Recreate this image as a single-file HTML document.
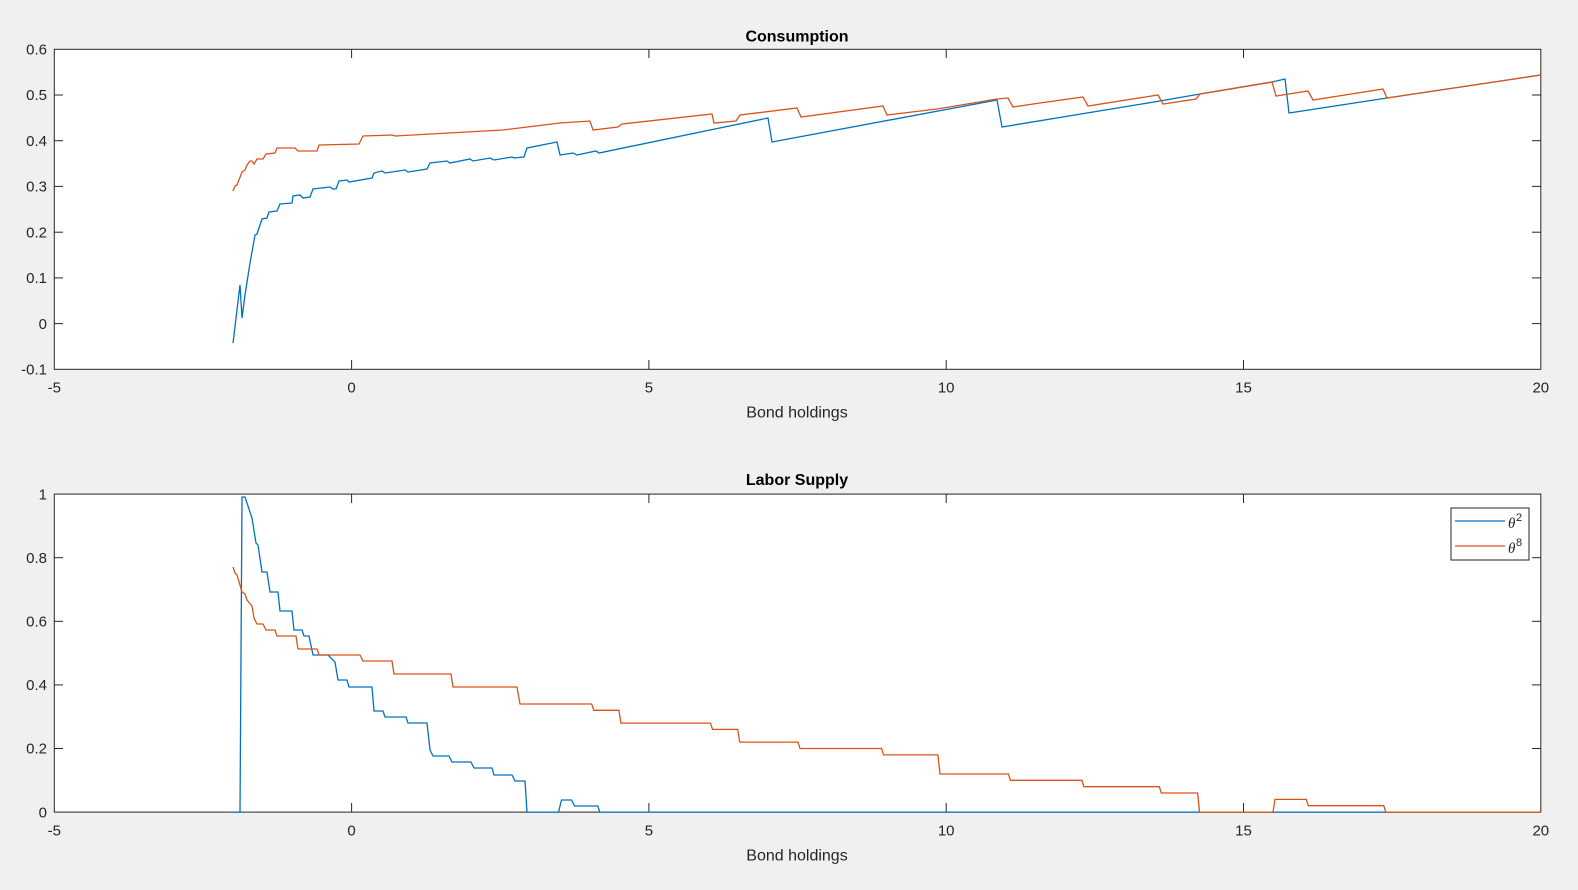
<!DOCTYPE html>
<html><head><meta charset="utf-8"><style>
html,body{margin:0;padding:0;background:#f0f0f0;}
svg{display:block;font-family:"Liberation Sans",Arial,sans-serif;}
</style></head><body>
<svg width="1578" height="890" viewBox="0 0 1578 890" xmlns="http://www.w3.org/2000/svg">
<rect width="1578" height="890" fill="#f0f0f0"/>
<!-- Top axes -->
<rect x="54.3" y="49.3" width="1486.5" height="320" fill="#fff" stroke="#262626" stroke-width="1"/>
<g stroke="#262626" stroke-width="1">
<line x1="351.6" y1="49.3" x2="351.6" y2="58"/><line x1="351.6" y1="369.3" x2="351.6" y2="360"/>
<line x1="648.9" y1="49.3" x2="648.9" y2="58"/><line x1="648.9" y1="369.3" x2="648.9" y2="360"/>
<line x1="946.2" y1="49.3" x2="946.2" y2="58"/><line x1="946.2" y1="369.3" x2="946.2" y2="360"/>
<line x1="1243.5" y1="49.3" x2="1243.5" y2="58"/><line x1="1243.5" y1="369.3" x2="1243.5" y2="360"/>
<line x1="54.3" y1="95" x2="63" y2="95"/><line x1="1540.8" y1="95" x2="1532" y2="95"/>
<line x1="54.3" y1="140.7" x2="63" y2="140.7"/><line x1="1540.8" y1="140.7" x2="1532" y2="140.7"/>
<line x1="54.3" y1="186.4" x2="63" y2="186.4"/><line x1="1540.8" y1="186.4" x2="1532" y2="186.4"/>
<line x1="54.3" y1="232.2" x2="63" y2="232.2"/><line x1="1540.8" y1="232.2" x2="1532" y2="232.2"/>
<line x1="54.3" y1="277.9" x2="63" y2="277.9"/><line x1="1540.8" y1="277.9" x2="1532" y2="277.9"/>
<line x1="54.3" y1="323.6" x2="63" y2="323.6"/><line x1="1540.8" y1="323.6" x2="1532" y2="323.6"/>
</g>
<g font-size="15" fill="#262626" text-anchor="end">
<text x="47" y="54.5">0.6</text><text x="47" y="100.2">0.5</text><text x="47" y="146">0.4</text>
<text x="47" y="191.7">0.3</text><text x="47" y="237.4">0.2</text><text x="47" y="283.1">0.1</text>
<text x="47" y="328.9">0</text><text x="47" y="374.6">-0.1</text>
</g>
<g font-size="15" fill="#262626" text-anchor="middle">
<text x="54.3" y="392.5">-5</text><text x="351.6" y="392.5">0</text><text x="648.9" y="392.5">5</text>
<text x="946.2" y="392.5">10</text><text x="1243.5" y="392.5">15</text><text x="1540.8" y="392.5">20</text>
<text x="797" y="417.6" font-size="16">Bond holdings</text>
<text x="797" y="41.3" font-size="16" font-weight="bold" fill="#000">Consumption</text>
</g>
<polyline fill="none" stroke="#0072bd" stroke-width="1.3" points="233,343 240,285 242,318 245,295 250,263 255,235 257,234 262,219 267,218 269,212 277,211 280,204 292,203 293,196 300,195 303,198 310,197 313,189 330,187 333,189 336,189 339,181 347,180 349,182 372,178 374,173 382,171 385,173 405,170 408,172 427,169 430,163 447,161 450,163 470,159 473,161 490,158 494,160 512,157 514,158 524,157 527,148 557,142 560,155 573,153 577,155 596,151 599,153 768,118 772,142 997,100 1002,127 1160,101 1200,94 1272,82 1285,79 1289,113 1387,98 1540.8,75"/>
<polyline fill="none" stroke="#d95319" stroke-width="1.3" points="233,191 235,186 237,185 242,172 245,170 247,165 250,161 252,161 254,164 257,159 263,159 266,154 275,153 277,148 295,148 298,151 317,151 319,145 359,144 363,136 392,135 395,136 503,130 560,123 590,121 593,130 618,127 622,124 712,114 714,123 736,121 740,115 797,108 801,117 883,106 887,115 937,109 997,99 1008,98 1013,107 1040,103 1083,97 1088,106 1158,95 1163,104 1196,99 1200,94 1272,82 1276,96 1308,91 1313,100 1383,89 1387,98 1540.8,75"/>
<!-- Bottom axes -->
<rect x="54.3" y="494.1" width="1486.5" height="318" fill="#fff" stroke="#262626" stroke-width="1"/>
<g stroke="#262626" stroke-width="1">
<line x1="351.6" y1="494.1" x2="351.6" y2="503"/><line x1="351.6" y1="812.1" x2="351.6" y2="803"/>
<line x1="648.9" y1="494.1" x2="648.9" y2="503"/><line x1="648.9" y1="812.1" x2="648.9" y2="803"/>
<line x1="946.2" y1="494.1" x2="946.2" y2="503"/><line x1="946.2" y1="812.1" x2="946.2" y2="803"/>
<line x1="1243.5" y1="494.1" x2="1243.5" y2="503"/><line x1="1243.5" y1="812.1" x2="1243.5" y2="803"/>
<line x1="54.3" y1="557.7" x2="63" y2="557.7"/><line x1="1540.8" y1="557.7" x2="1532" y2="557.7"/>
<line x1="54.3" y1="621.3" x2="63" y2="621.3"/><line x1="1540.8" y1="621.3" x2="1532" y2="621.3"/>
<line x1="54.3" y1="684.9" x2="63" y2="684.9"/><line x1="1540.8" y1="684.9" x2="1532" y2="684.9"/>
<line x1="54.3" y1="748.5" x2="63" y2="748.5"/><line x1="1540.8" y1="748.5" x2="1532" y2="748.5"/>
</g>
<g font-size="15" fill="#262626" text-anchor="end">
<text x="47" y="499.3">1</text><text x="47" y="562.9">0.8</text><text x="47" y="626.5">0.6</text>
<text x="47" y="690.1">0.4</text><text x="47" y="753.7">0.2</text><text x="47" y="817.3">0</text>
</g>
<g font-size="15" fill="#262626" text-anchor="middle">
<text x="54.3" y="835.3">-5</text><text x="351.6" y="835.3">0</text><text x="648.9" y="835.3">5</text>
<text x="946.2" y="835.3">10</text><text x="1243.5" y="835.3">15</text><text x="1540.8" y="835.3">20</text>
<text x="797" y="860.4" font-size="16">Bond holdings</text>
<text x="797" y="485" font-size="16" font-weight="bold" fill="#000">Labor Supply</text>
</g>
<polyline fill="none" stroke="#0072bd" stroke-width="1.3" points="233,812.1 240,812.1 242,497 245,497 252,518 256,543 258,545 262,572 267,572 270,592 278,592 280,611 292,611 294,630 302,630 304,636 309,636 313,655 328,655 335,662 338,680 347,680 349,687 372,687 374,711 383,711 385,717 406,717 408,723 427,723 430,750 433,756 449,756 452,762 471,762 474,768 492,768 494,775 512,775 515,781 525,781 527,812.1 558.5,812.1 561.5,800 571.6,800 574.6,806 597.8,806 599.8,812.1 1540.8,812.1"/>
<polyline fill="none" stroke="#d95319" stroke-width="1.3" points="233,567 235,573 237,575 242,592 245,594 247,600 252,606 254,618 257,624 263,624 266,630 275,630 277,636 296,636 298,649 317,649 319,655 360,655 363,661 392,661 394,674 451,674 453,687 517,687 520,704 591.7,704 593.8,710.3 618.9,710.3 620.9,723.1 710.5,723.1 712.5,729.4 737.7,729.4 739.7,742.1 798,742.1 800,748.5 881.6,748.5 883.6,754.9 937.9,754.9 940,774 1008.4,774 1010.4,780.3 1081.9,780.3 1083.9,786.7 1159.3,786.7 1161.3,793 1197.6,793 1199.6,812.1 1273,812.1 1275,799.4 1306.3,799.4 1308.3,805.7 1383.8,805.7 1385.8,812.1 1540.8,812.1"/>
<!-- Legend -->
<rect x="1451" y="508" width="78" height="52" fill="#fff" stroke="#262626" stroke-width="1"/>
<line x1="1455" y1="521" x2="1505" y2="521" stroke="#0072bd" stroke-width="1.3"/>
<line x1="1455" y1="546" x2="1505" y2="546" stroke="#d95319" stroke-width="1.3"/>
<text x="1508" y="528" font-family="Liberation Serif,serif" font-style="italic" font-size="15" fill="#262626">θ</text>
<text x="1516" y="521" font-size="11" fill="#262626">2</text>
<text x="1508" y="553" font-family="Liberation Serif,serif" font-style="italic" font-size="15" fill="#262626">θ</text>
<text x="1516" y="546" font-size="11" fill="#262626">8</text>
</svg>
</body></html>
